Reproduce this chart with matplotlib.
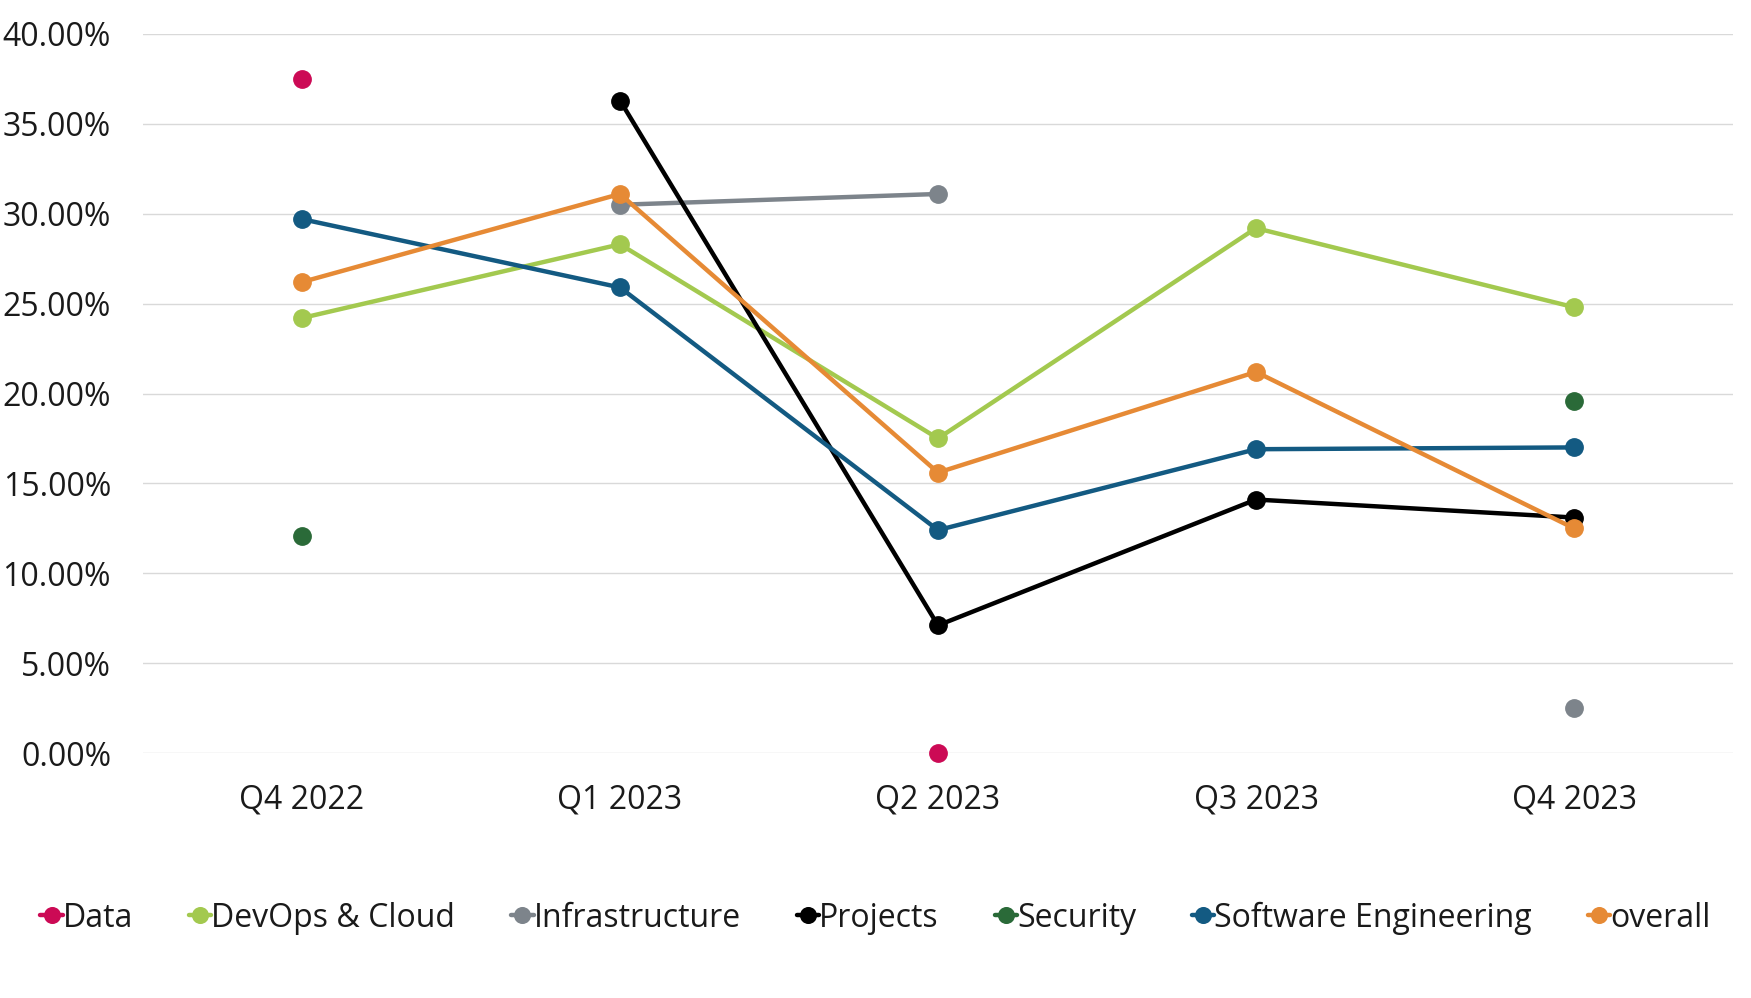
import numpy as np
from matplotlib import pyplot as plt
from matplotlib.ticker import PercentFormatter

nan = np.nan
quarters = ["Q4 2022", "Q1 2023", "Q2 2023", "Q3 2023", "Q4 2023"]

data_vals = [37.5, nan, 0.0, nan, nan]
devops = [24.2, 28.3, 17.5, 29.2, 24.8]
infra = [nan, 30.5, 31.1, nan, 2.5]
projects = [nan, 36.3, 7.1, 14.1, 13.1]
security = [12.1, nan, nan, nan, 19.6]
software = [29.7, 25.9, 12.4, 16.9, 17.0]
overall = [26.2, 31.1, 15.6, 21.2, 12.5]

names = ["Data", "DevOps & Cloud", "Infrastructure", "Projects", "Security",
         "Software Engineering", "overall"]
series = [data_vals, devops, infra, projects, security, software, overall]
colors = ["#CC0A55", "#A3C94F", "#7D848B", "#000000", "#2A6A38", "#135A82", "#E68A35"]

plt.rcParams['font.family'] = ['Open Sans', 'DejaVu Sans']

fig = plt.figure(figsize=(17.51, 9.98), dpi=100)
ax = fig.add_axes([143 / 1751, 245 / 998, 1590 / 1751, 719 / 998])

x = np.arange(len(quarters))
for name, vals, c in zip(names, series, colors):
    ax.plot(x, np.array(vals) / 100, color=c, lw=3.2, marker="o", ms=12.5,
            label=name, solid_capstyle="round", clip_on=False)

ax.set_xlim(-0.5, 4.5)
ax.set_ylim(0, 0.40)
ax.set_yticks(np.arange(0, 0.401, 0.05))
ax.yaxis.set_major_formatter(PercentFormatter(1.0, decimals=2))
ax.set_xticks(x)
ax.set_xticklabels(quarters)
ax.tick_params(axis="both", length=0, labelsize=23, colors="#1a1a1a")
ax.tick_params(axis="x", pad=22)
ax.tick_params(axis="y", pad=23)
ax.grid(axis="y", color="#D9D9D9", lw=1)
ax.set_axisbelow(True)
for s in ax.spines.values():
    s.set_visible(False)

fig.legend(loc="center", bbox_to_anchor=(0.5, 80 / 998), ncol=7, frameon=False,
           fontsize=23, handlelength=0.7, handletextpad=0.0, columnspacing=1.75,
           markerscale=0.9, labelcolor="#1a1a1a")

fig.savefig("out.png", dpi=100)
